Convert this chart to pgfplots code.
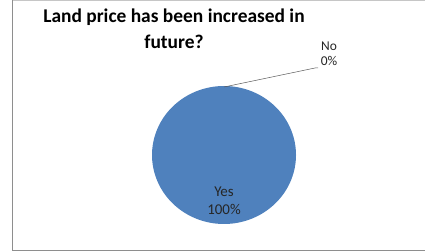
\documentclass[border=0pt]{standalone}
\usepackage{pgfplots}
\usepackage{pgfplotstable}
\pgfplotsset{compat=1.18}
\usepackage{fontspec}
\setmainfont{Carlito}
\definecolor{pieblue}{HTML}{4F81BD}
\definecolor{framegray}{HTML}{8E8E8E}
\pgfplotstableread{
label value
Yes 100
No 0
}\piedata
\begin{document}
\begin{tikzpicture}
\pgfplotstablegetelem{0}{value}\of\piedata
\let\yesval\pgfplotsretval
\begin{axis}[
  width=425bp, height=252bp, scale only axis,
  xmin=0, xmax=425, ymin=0, ymax=252,
  hide axis, clip=false,
]
\coordinate (ll) at (axis cs:0,0);
\coordinate (ur) at (axis cs:425,252);
% frame
\draw[framegray, line width=1.3pt] (axis cs:12.5,251.5) -- (axis cs:12.5,1.5) -- (axis cs:425,1.5);
\draw[framegray!50, line width=0.6pt] (axis cs:12.5,251.7) -- (axis cs:425,251.7);
% pie slice (Yes)
\addplot[fill=pieblue, draw=none, domain=90:{90-3.6*\yesval}, samples=181, variable=\t]
  ({224+72*cos(\t)}, {97+69*sin(\t)}) -- cycle;
% leader line for No
\draw[gray!70!black, line width=0.5pt] (axis cs:224,165) -- (axis cs:315,184) -- (axis cs:318,184);
% labels
\node[font=\fontsize{13.5}{15}\selectfont, align=center, text=black!85] at (axis cs:329,198) {No\\0\%};
\node[font=\fontsize{15}{18}\selectfont, align=center, text=black!85] at (axis cs:224,51) {Yes\\100\%};
% title
\node[font=\bfseries\fontsize{19.5}{26}\selectfont, align=center] at (axis cs:174,223) {Land price has been increased in\\future?};
\end{axis}
\pgfresetboundingbox
\path (ll) rectangle (ur);
\end{tikzpicture}
\end{document}
